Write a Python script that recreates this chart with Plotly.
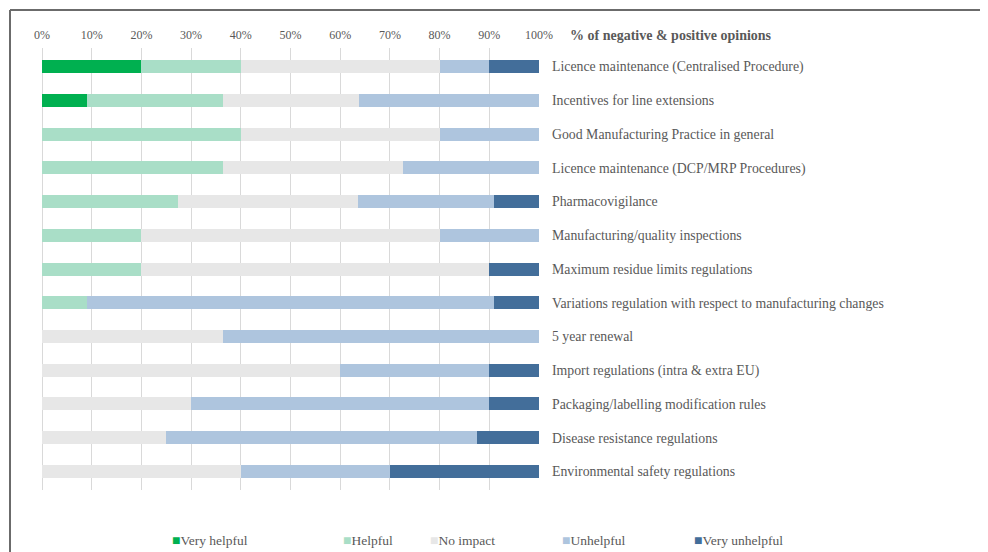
import plotly.graph_objects as go

# survey items, top to bottom
categories = [
    "Licence maintenance (Centralised Procedure)",
    "Incentives for line extensions",
    "Good Manufacturing Practice in general",
    "Licence maintenance (DCP/MRP Procedures)",
    "Pharmacovigilance",
    "Manufacturing/quality inspections",
    "Maximum residue limits regulations",
    "Variations regulation with respect to manufacturing changes",
    "5 year renewal",
    "Import regulations (intra & extra EU)",
    "Packaging/labelling modification rules",
    "Disease resistance regulations",
    "Environmental safety regulations",
]

# % of respondents per opinion
very_helpful = [20, 9.1, 0, 0, 0, 0, 0, 0, 0, 0, 0, 0, 0]
helpful = [20, 27.3, 40, 36.4, 27.3, 20, 20, 9.1, 0, 0, 0, 0, 0]
no_impact = [40, 27.3, 40, 36.3, 36.3, 60, 70, 0, 36.4, 60, 30, 25, 40]
unhelpful = [10, 36.3, 20, 27.3, 27.3, 20, 0, 81.8, 63.6, 30, 60, 62.5, 30]
very_unhelpful = [10, 0, 0, 0, 9.1, 0, 10, 9.1, 0, 10, 10, 12.5, 30]

series = [
    ("Very helpful", very_helpful, "#00B050"),
    ("Helpful", helpful, "#A9DEC7"),
    ("No impact", no_impact, "#E7E7E7"),
    ("Unhelpful", unhelpful, "#AEC5DE"),
    ("Very unhelpful", very_unhelpful, "#436E9A"),
]

FONT = "Liberation Serif"
GREY = "#595959"

# page body has an 8px margin, so the figure is drawn 8px in from the corner
OFF = 8
W, H = 988 - OFF, 552 - OFF
L, R, T, B = 42 - OFF, 988 - 539, 48 - OFF, 552 - 490


def px_x(px):
    # screen pixel -> paper x
    return (px - OFF - L) / (W - L - R)


def px_y(py):
    return (H - B - (py - OFF)) / (H - T - B)


fig = go.Figure()
for name, vals, color in series:
    fig.add_trace(
        go.Bar(
            x=vals,
            y=categories,
            orientation="h",
            name=name,
            marker=dict(color=color, line=dict(width=0)),
            showlegend=False,
            hovertemplate="%{y}<br>" + name + ": %{x}%<extra></extra>",
        )
    )

# legend drawn as text so the swatch sits right next to the label
legend_px = [170, 341, 428, 560, 692]
for (name, vals, color), lx in zip(series, legend_px):
    fig.add_annotation(
        x=px_x(lx),
        y=px_y(540),
        xref="paper",
        yref="paper",
        xanchor="left",
        yanchor="middle",
        showarrow=False,
        text=f"<span style='color:{color};font-size:14px'>■</span>{name}",
        font=dict(family=FONT, size=13.5, color=GREY),
    )

fig.add_annotation(
    x=px_x(568),
    y=px_y(35),
    xref="paper",
    yref="paper",
    xanchor="left",
    yanchor="middle",
    showarrow=False,
    text="<b>% of negative & positive opinions</b>",
    font=dict(family=FONT, size=14, color=GREY),
)

# frame lines (top and left)
fig.add_shape(type="line", xref="paper", yref="paper",
              x0=px_x(10), x1=px_x(1000), y0=px_y(10), y1=px_y(10),
              line=dict(color="#6b6b6b", width=2))
fig.add_shape(type="line", xref="paper", yref="paper",
              x0=px_x(10), x1=px_x(10), y0=px_y(10), y1=px_y(560),
              line=dict(color="#6b6b6b", width=2))

fig.update_layout(
    width=W,
    height=H,
    barmode="stack",
    bargap=0.615,
    plot_bgcolor="white",
    paper_bgcolor="white",
    margin=dict(l=L, r=R, t=T, b=B, autoexpand=False),
    font=dict(family=FONT, color=GREY),
    xaxis=dict(
        side="top",
        range=[0, 100],
        dtick=10,
        ticksuffix="%",
        showgrid=True,
        gridcolor="#D9D9D9",
        zeroline=True,
        zerolinecolor="#D9D9D9",
        zerolinewidth=1,
        showline=False,
        ticks="",
        ticklabelstandoff=6,
        tickfont=dict(family=FONT, size=12, color=GREY),
        fixedrange=True,
    ),
    yaxis=dict(
        side="right",
        range=[12.55, -0.55],
        showgrid=False,
        zeroline=False,
        showline=False,
        ticks="",
        ticklabelstandoff=12,
        tickfont=dict(family=FONT, size=13.8, color=GREY),
        fixedrange=True,
    ),
)

fig.write_html("out.html")
